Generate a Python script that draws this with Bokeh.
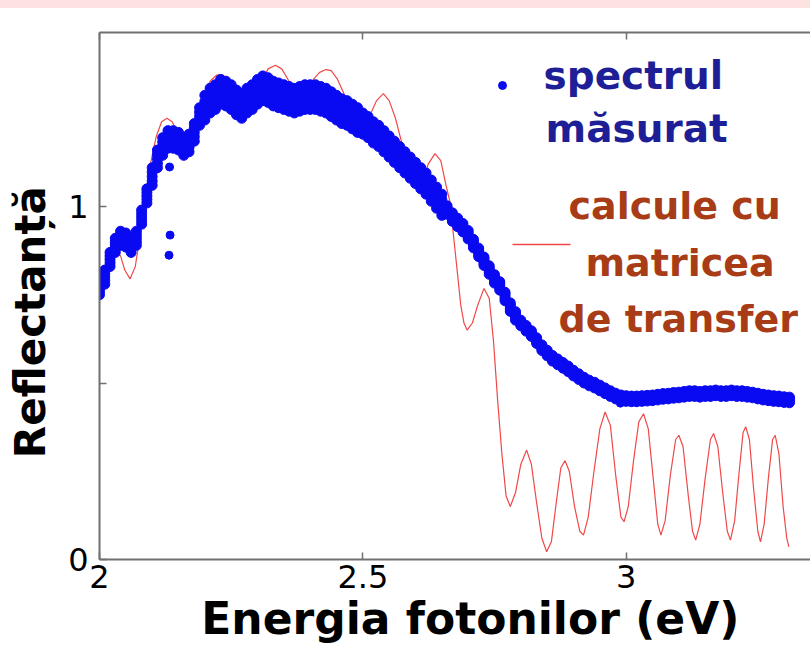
from bokeh.plotting import figure
from bokeh.models import Range1d, LinearAxis, FixedTicker, Label
from bokeh.embed import file_html
from bokeh.resources import INLINE

FONT = "DejaVu Sans"

# ---------------- data ----------------
# measured spectrum (centre of the dotted band)
meas_x = [
    2.00, 2.01, 2.02, 2.03, 2.04, 2.05, 2.06, 2.07, 2.08, 2.09,
    2.10, 2.11, 2.12, 2.13, 2.14, 2.15, 2.16, 2.17, 2.18, 2.19,
    2.20, 2.21, 2.22, 2.23, 2.24, 2.25, 2.26, 2.27, 2.28, 2.29,
    2.30, 2.31, 2.32, 2.33, 2.34, 2.35, 2.36, 2.37, 2.38, 2.39,
    2.40, 2.41, 2.42, 2.43, 2.44, 2.45, 2.46, 2.47, 2.48, 2.49,
    2.50, 2.51, 2.52, 2.53, 2.54, 2.55, 2.56, 2.57, 2.58, 2.59,
    2.60, 2.61, 2.62, 2.63, 2.64, 2.65, 2.66, 2.67, 2.68, 2.69,
    2.70, 2.71, 2.72, 2.73, 2.74, 2.75, 2.76, 2.77, 2.78, 2.79,
    2.80, 2.81, 2.82, 2.83, 2.84, 2.85, 2.86, 2.87, 2.88, 2.89,
    2.90, 2.91, 2.92, 2.93, 2.94, 2.95, 2.96, 2.97, 2.98, 2.99,
    3.00, 3.01, 3.02, 3.03, 3.04, 3.05, 3.06, 3.07, 3.08, 3.09,
    3.10, 3.11, 3.12, 3.13, 3.14, 3.15, 3.16, 3.17, 3.18, 3.19,
    3.20, 3.21, 3.22, 3.23, 3.24, 3.25, 3.26, 3.27, 3.28, 3.29,
    3.30, 3.31,
]
meas_y = [
    0.77, 0.80, 0.85, 0.89, 0.91, 0.905, 0.89, 0.91, 0.97, 1.03,
    1.085, 1.135, 1.17, 1.19, 1.19, 1.185, 1.17, 1.18, 1.21, 1.255,
    1.28, 1.30, 1.31, 1.325, 1.32, 1.31, 1.295, 1.285, 1.30, 1.31,
    1.325, 1.335, 1.33, 1.32, 1.315, 1.31, 1.305, 1.30, 1.305, 1.31,
    1.31, 1.31, 1.305, 1.30, 1.29, 1.28, 1.27, 1.265, 1.255, 1.245,
    1.235, 1.225, 1.21, 1.20, 1.185, 1.17, 1.155, 1.14, 1.125, 1.11,
    1.095, 1.08, 1.065, 1.045, 1.025, 1.005, 0.99, 0.97, 0.955, 0.94,
    0.92, 0.895, 0.87, 0.845, 0.82, 0.795, 0.775, 0.745, 0.715, 0.69,
    0.67, 0.655, 0.64, 0.62, 0.60, 0.585, 0.57, 0.56, 0.55, 0.54,
    0.528, 0.518, 0.508, 0.50, 0.494, 0.486, 0.478, 0.47, 0.463, 0.458,
    0.456, 0.455, 0.455, 0.456, 0.457, 0.458, 0.46, 0.462, 0.463, 0.465,
    0.466, 0.468, 0.47, 0.47, 0.468, 0.47, 0.47, 0.472, 0.47, 0.47,
    0.472, 0.47, 0.47, 0.468, 0.466, 0.463, 0.46, 0.458, 0.456, 0.455,
    0.453, 0.452,
]
# half-thickness of the scattered band, read per region
meas_spread = ([0.02] * 10 + [0.025] * 10 + [0.035] * 30 + [0.03] * 16
               + [0.012] * 14 + [0.008] * 52)
# isolated outlier points
outlier_x = [2.133, 2.134, 2.132, 2.310, 2.989]
outlier_y = [1.112, 0.919, 0.862, 1.365, 0.443]

# transfer-matrix calculation
calc_x = [
    2.000, 2.010, 2.020, 2.030, 2.040, 2.048, 2.058, 2.068, 2.078, 2.088,
    2.098, 2.108, 2.118, 2.128, 2.138, 2.148, 2.158, 2.168, 2.178, 2.188,
    2.198, 2.210, 2.222, 2.235, 2.248, 2.260, 2.272, 2.284, 2.296, 2.308,
    2.320, 2.334, 2.346, 2.358, 2.370, 2.382, 2.394, 2.406, 2.418, 2.430,
    2.440, 2.452, 2.464, 2.476, 2.490, 2.502, 2.514, 2.526, 2.539, 2.550,
    2.562, 2.574, 2.586, 2.600, 2.612, 2.624, 2.637, 2.648, 2.658, 2.666,
    2.672, 2.679, 2.686, 2.692, 2.698, 2.708, 2.718, 2.730, 2.740, 2.748,
    2.756, 2.764, 2.772, 2.780, 2.790, 2.800, 2.811, 2.820, 2.830, 2.840,
    2.849, 2.858, 2.868, 2.876, 2.884, 2.892, 2.902, 2.912, 2.919, 2.928,
    2.938, 2.950, 2.960, 2.970, 2.980, 2.990, 2.996, 3.004, 3.014, 3.024,
    3.033, 3.042, 3.052, 3.060, 3.066, 3.074, 3.084, 3.094, 3.100, 3.108,
    3.118, 3.126, 3.132, 3.140, 3.150, 3.160, 3.166, 3.174, 3.184, 3.192,
    3.198, 3.206, 3.214, 3.222, 3.227, 3.234, 3.242, 3.250, 3.255, 3.262,
    3.270, 3.278, 3.283, 3.290, 3.298, 3.305, 3.309,
]
calc_y = [
    0.77, 0.80, 0.85, 0.875, 0.86, 0.82, 0.795, 0.83, 0.93, 1.04,
    1.13, 1.20, 1.24, 1.25, 1.24, 1.21, 1.18, 1.17, 1.19, 1.25,
    1.31, 1.355, 1.372, 1.372, 1.35, 1.30, 1.265, 1.268, 1.30, 1.355,
    1.39, 1.40, 1.39, 1.36, 1.33, 1.32, 1.33, 1.36, 1.38, 1.388,
    1.385, 1.36, 1.32, 1.27, 1.24, 1.24, 1.26, 1.30, 1.32, 1.30,
    1.25, 1.18, 1.10, 1.05, 1.06, 1.12, 1.15, 1.13, 1.06, 1.01,
    0.92, 0.82, 0.72, 0.67, 0.65, 0.67, 0.72, 0.768, 0.74, 0.62,
    0.45, 0.30, 0.18, 0.15, 0.19, 0.27, 0.31, 0.27, 0.16, 0.06,
    0.022, 0.05, 0.17, 0.26, 0.28, 0.25, 0.15, 0.08, 0.069, 0.12,
    0.24, 0.37, 0.418, 0.38, 0.24, 0.12, 0.107, 0.15, 0.28, 0.39,
    0.413, 0.37, 0.22, 0.10, 0.069, 0.11, 0.24, 0.34, 0.352, 0.32,
    0.18, 0.08, 0.055, 0.10, 0.23, 0.34, 0.357, 0.32, 0.18, 0.08,
    0.055, 0.11, 0.24, 0.36, 0.376, 0.34, 0.20, 0.08, 0.05, 0.10,
    0.23, 0.34, 0.352, 0.30, 0.15, 0.06, 0.036,
]

x_ticks = [2.0, 2.5, 3.0]
x_tick_labels = ["2", "2.5", "3"]
y_ticks = [0.0, 1.0]
y_tick_labels = ["0", "1"]
y_unlabeled_ticks = [0.5]

x_label = "\u00a0\u00a0Energia fotonilor (eV)"
y_label = "Reflectanță\u00a0\u00a0\u00a0\u2009"
legend_meas = ["spectrul", "măsurat"]
legend_calc = ["calcule cu", "matricea", "de transfer"]

# ---------------- styling ----------------
BLUE = "#0a0af2"
RED_LINE = "#f04848"
TXT_BLUE = "#1e1e96"
TXT_RED = "#a83c16"
AXIS_GRAY = "#707070"
PINK = "#fde2e2"

X0, X1 = 2.0, 3.35
Y0, Y1 = 0.0, 1.493
FW, FH = 711.0, 527.0

p = figure(width=810, height=650, x_range=Range1d(X0, X1), y_range=Range1d(Y0, Y1),
           output_backend="svg", toolbar_location=None,
           min_border_left=99, min_border_right=0, min_border_top=24, min_border_bottom=99,
           x_axis_label=x_label, y_axis_label=y_label,
           styles={"border-top": "8px solid " + PINK})
p.grid.visible = False
p.outline_line_color = None
p.background_fill_color = "white"
p.border_fill_color = "white"

p.xaxis[0].ticker = FixedTicker(ticks=x_ticks)
p.xaxis[0].major_label_overrides = {t: l for t, l in zip(x_ticks, x_tick_labels)}
p.yaxis[0].ticker = FixedTicker(ticks=y_ticks, minor_ticks=y_unlabeled_ticks)
p.yaxis[0].major_label_overrides = {t: l for t, l in zip(y_ticks, y_tick_labels)}

for ax in (p.xaxis[0], p.yaxis[0]):
    ax.axis_line_color = AXIS_GRAY
    ax.axis_line_width = 2
    ax.major_tick_line_color = AXIS_GRAY
    ax.major_tick_line_width = 1.5
    ax.major_tick_in = 7
    ax.major_tick_out = 0
    ax.minor_tick_line_color = AXIS_GRAY
    ax.minor_tick_line_width = 1.5
    ax.minor_tick_in = 7
    ax.minor_tick_out = 0
    ax.major_label_text_font = FONT
    ax.major_label_text_font_size = "32px"
    ax.major_label_text_color = "black"
    ax.axis_label_text_font = FONT
    ax.axis_label_text_font_style = "bold"
    ax.axis_label_text_color = "black"

p.xaxis[0].axis_label_text_font_size = "44px"
p.xaxis[0].major_label_standoff = 5
p.xaxis[0].axis_label_standoff = 2
p.yaxis[0].axis_label_text_font_size = "42px"
p.yaxis[0].major_label_standoff = 11
p.yaxis[0].axis_label_standoff = 10

# top frame line with inward ticks (no labels)
top = LinearAxis(ticker=FixedTicker(ticks=[], minor_ticks=x_ticks),
                 axis_line_color=AXIS_GRAY, axis_line_width=2,
                 major_tick_line_color=None,
                 minor_tick_line_color=AXIS_GRAY, minor_tick_line_width=1.5,
                 minor_tick_in=7, minor_tick_out=0)
p.add_layout(top, "above")

# calculation curve (drawn below the measured points)
p.line(calc_x, calc_y, line_color=RED_LINE, line_width=1.2)

# measured points: band centre plus its scatter across the band width
for k in (-1.0, 1.0, -0.5, 0.5, 0.0):
    ys = [y + k * s for y, s in zip(meas_y, meas_spread)]
    p.scatter(meas_x, ys, size=10, fill_color=BLUE, line_color=BLUE)
p.scatter(outlier_x, outlier_y, size=8, fill_color=BLUE, line_color=BLUE)


# ---------------- legend (frame-relative pixel positions) ----------------
def fx(sx):
    return X0 + sx * (X1 - X0) / FW


def fy(sy):
    return Y0 + sy * (Y1 - Y0) / FH


p.scatter([fx(403)], [fy(474)], size=8, fill_color=BLUE, line_color=BLUE)
p.segment(x0=[fx(413)], y0=[fy(315)], x1=[fx(471)], y1=[fy(315)],
          line_color=RED_LINE, line_width=1.5)

for txt, sx, sy in zip(legend_meas, [444, 446], [484, 431]):
    p.add_layout(Label(x=sx, y=sy, x_units="screen", y_units="screen", text=txt,
                       text_font=FONT, text_font_style="bold", text_font_size="39px",
                       text_color=TXT_BLUE, text_baseline="alphabetic", text_align="left"))
for txt, sx, sy in zip(legend_calc, [469, 486, 459], [354, 297, 241]):
    p.add_layout(Label(x=sx, y=sy, x_units="screen", y_units="screen", text=txt,
                       text_font=FONT, text_font_style="bold", text_font_size="38px",
                       text_color=TXT_RED, text_baseline="alphabetic", text_align="left"))

open("out.html", "w").write(file_html(p, INLINE))
